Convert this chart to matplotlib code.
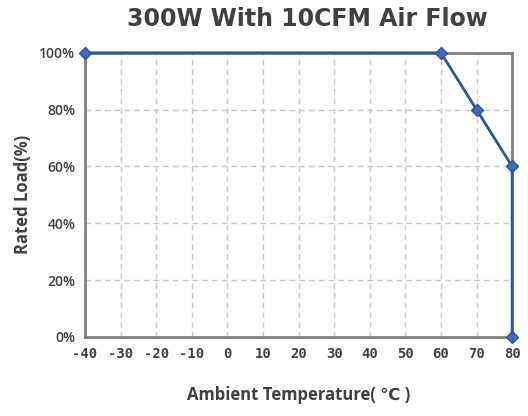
import matplotlib
matplotlib.use('Agg')
import matplotlib.pyplot as plt
from matplotlib.ticker import FuncFormatter

temps = [-40, 60, 70, 80, 80]
load = [100, 100, 80, 60, 0]
xticks = list(range(-40, 81, 10))
yticks = [0, 20, 40, 60, 80, 100]

plt.rcParams['font.family'] = ['Open Sans', 'DejaVu Sans']
plt.rcParams['axes.unicode_minus'] = False

fig = plt.figure(figsize=(5.28, 4.16), dpi=100)
ax = fig.add_axes([0.161, 0.19, 0.809, 0.683])

ax.plot(temps, load, color='#2F5597', lw=2, marker='D', ms=6,
        mfc='#3D6DB5', mec='#2F5597', clip_on=False, zorder=5)

ax.set_xlim(-40, 80)
ax.set_ylim(0, 100)
ax.set_xticks(xticks)
ax.set_xticklabels([str(t) for t in xticks], family='DejaVu Sans Mono',
                   fontsize=9.5, fontweight='bold')
ax.set_yticks(yticks)
ax.yaxis.set_major_formatter(FuncFormatter(lambda v, p: f'{int(v)}%'))
for lab in ax.get_yticklabels():
    lab.set_fontweight('semibold')
ax.grid(True, ls=(0, (4, 3)), color='#c8c8c8', lw=1)
ax.tick_params(length=0, pad=7, labelsize=10, colors='#404040')
for s in ax.spines.values():
    s.set_color('#808080')
    s.set_linewidth(2)

ax.set_xlabel('Ambient Temperature( \u2103 )', fontsize=12, fontweight='bold',
              color='#404040', labelpad=18)
ax.set_ylabel('Rated Load(%)', fontsize=12, fontweight='bold', color='#404040',
              labelpad=5)
fig.text(0.582, 0.955, '300W With 10CFM Air Flow', ha='center', va='center',
         fontsize=17, fontweight='bold', color='#404040', family='DejaVu Sans')

fig.savefig('out.png', dpi=100)
